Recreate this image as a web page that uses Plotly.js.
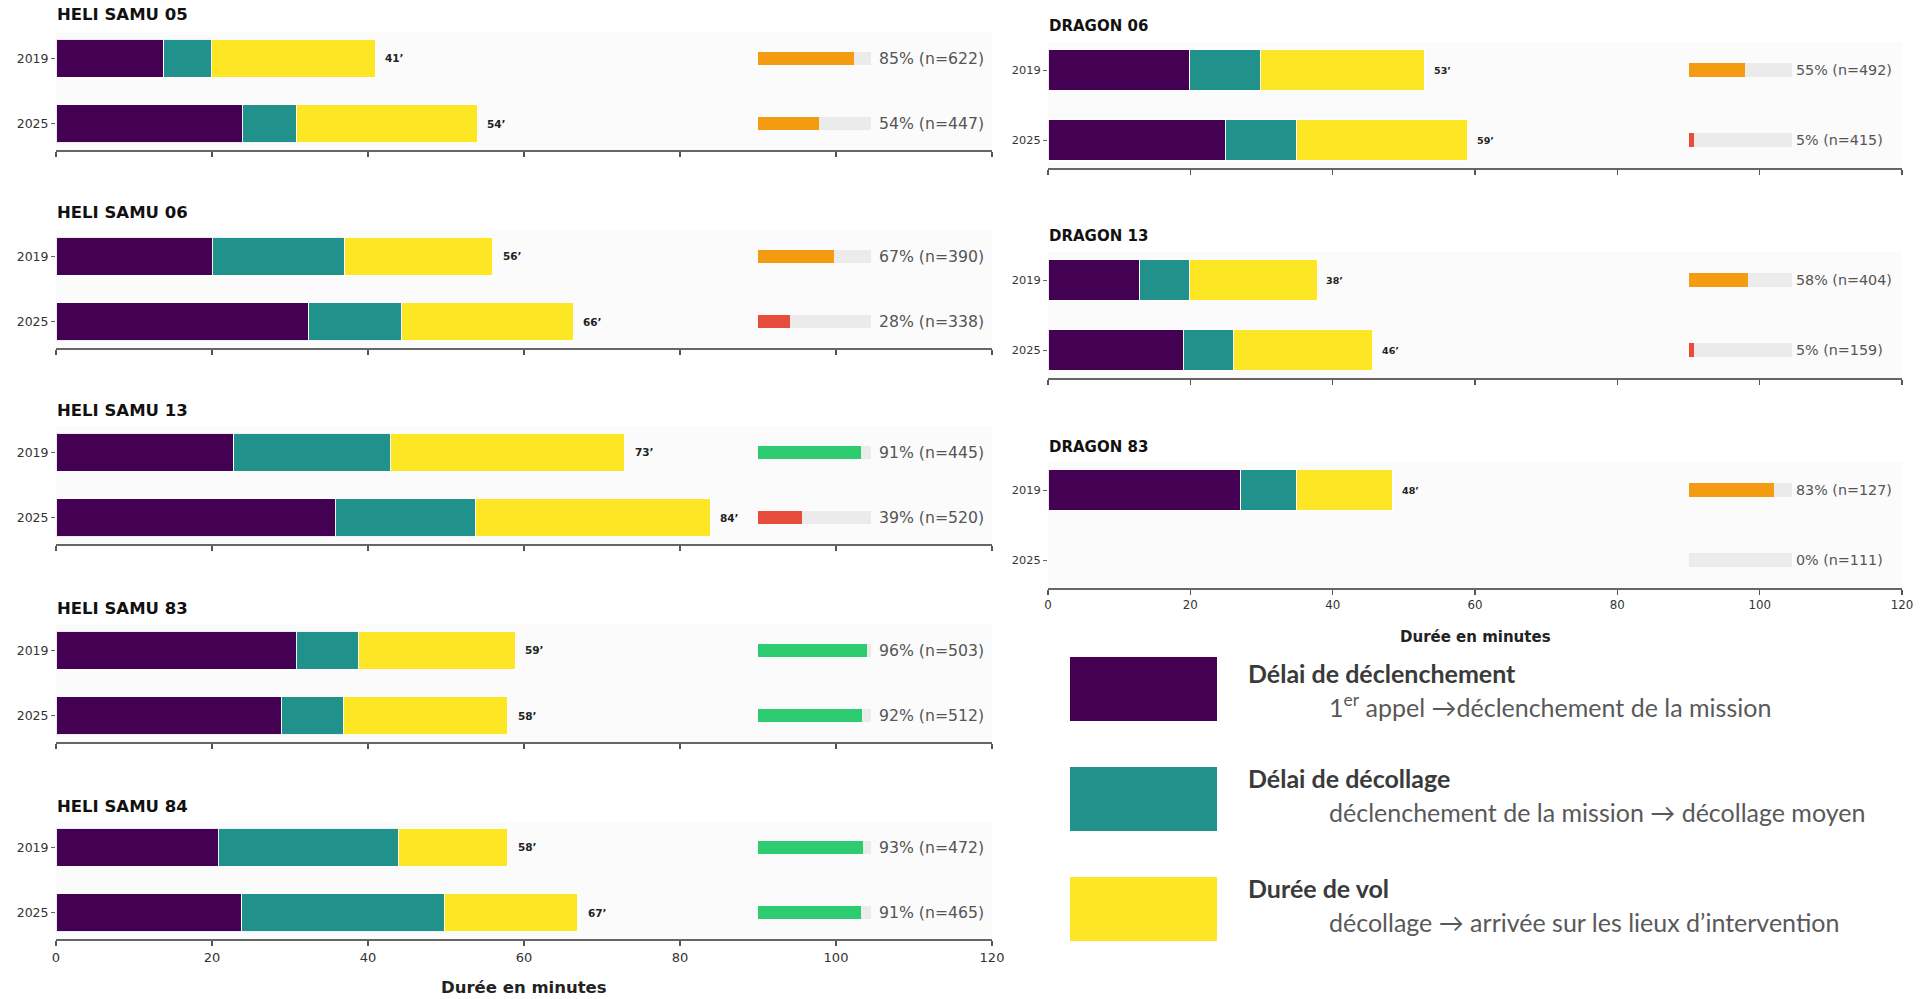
<!DOCTYPE html>
<html>
<head>
<meta charset="utf-8">
<script src="https://cdn.plot.ly/plotly-3.0.1.min.js"></script>
<style>html,body{margin:0;padding:0;background:#fff;}#chart{width:1921px;height:999px;}</style>
</head>
<body>
<div id="chart"></div>
<script>
// ---------------- DATA ----------------
const stations = ['HELI SAMU 05','HELI SAMU 06','HELI SAMU 13','HELI SAMU 83','HELI SAMU 84','DRAGON 06','DRAGON 13','DRAGON 83'];
const years = ['2019','2025'];
// Délai de déclenchement (minutes)
const declenchement2019 = [13.8, 20.0, 22.8, 30.8, 20.8, 19.9, 12.9, 27.1];
const declenchement2025 = [23.9, 32.4, 35.8, 28.9, 23.8, 24.9, 19.0, null];
// Délai de décollage (minutes)
const decollage2019 = [6.1, 17.0, 20.1, 8.0, 23.1, 9.9, 7.0, 7.8];
const decollage2025 = [6.9, 11.9, 18.0, 7.9, 26.0, 10.0, 7.0, null];
// Durée de vol (minutes)
const vol2019 = [21.0, 19.0, 30.0, 20.1, 14.0, 23.1, 17.9, 13.5];
const vol2025 = [23.2, 22.0, 30.1, 21.1, 17.1, 24.1, 19.6, null];
// Compliance (%) and sample size
const pct2019 = [85, 67, 91, 96, 93, 55, 58, 83];
const pct2025 = [54, 28, 39, 92, 91, 5, 5, 0];
const n2019 = [622, 390, 445, 503, 472, 492, 404, 127];
const n2025 = [447, 338, 520, 512, 465, 415, 159, 111];
const xTicks = [0, 20, 40, 60, 80, 100, 120];
const segmentNames = ['Délai de déclenchement', 'Délai de décollage', 'Durée de vol'];
const legendSub = ['1<sup>er</sup> appel →déclenchement de la mission',
                   'déclenchement de la mission → décollage moyen',
                   'décollage → arrivée sur les lieux d’intervention'];
const xTitle = 'Durée en minutes';

// ---------------- STYLE / LAYOUT ----------------
const W = 1921, H = 999;
const colors = ['#440154', '#21918c', '#fde725'];
const px = p => p / W;
const py = p => 1 - p / H;
const leftX = [56, 992], rightX = [1048, 1902];
const panels = [
  {x: leftX, top: 32,  bot: 150, ty: 15,  s: 1, pf: 15.7, px0: 105.3},
  {x: leftX, top: 230, bot: 348, ty: 213, s: 1, pf: 15.7, px0: 105.3},
  {x: leftX, top: 426, bot: 544, ty: 410, s: 1, pf: 15.7, px0: 105.3},
  {x: leftX, top: 624, bot: 742, ty: 608, s: 1, pf: 15.7, px0: 105.3},
  {x: leftX, top: 821, bot: 939, ty: 806, s: 1, pf: 15.7, px0: 105.3, labels: true},
  {x: rightX, top: 42,  bot: 168, ty: 26,  s: 0.91, pf: 14.3, px0: 104.8},
  {x: rightX, top: 252, bot: 378, ty: 236, s: 0.91, pf: 14.3, px0: 104.8},
  {x: rightX, top: 462, bot: 588, ty: 447, s: 0.91, pf: 14.3, px0: 104.8, labels: true}
];
const complColor = p => p >= 90 ? '#2ecc71' : (p >= 50 ? '#f39c12' : '#e74c3c');
const FONT = 'DejaVu Sans, sans-serif';

const traces = [];
const annotations = [];
const shapes = [];
const layout = {
  width: W, height: H,
  margin: {l: 0, r: 0, t: 0, b: 0},
  paper_bgcolor: '#ffffff',
  barmode: 'stack',
  showlegend: false,
  hovermode: false,
  font: {family: FONT, color: '#333'},
  annotations: annotations,
  shapes: shapes
};

stations.forEach((st, i) => {
  const P = panels[i];
  const sfx = i === 0 ? '' : String(i + 1);
  const xa = 'x' + sfx, ya = 'y' + sfx;
  const segs = [
    [declenchement2019[i], declenchement2025[i]],
    [decollage2019[i], decollage2025[i]],
    [vol2019[i], vol2025[i]]
  ];
  segs.forEach((v, k) => {
    traces.push({
      type: 'bar', orientation: 'h', name: segmentNames[k],
      y: years, x: v, xaxis: xa, yaxis: ya, width: 0.58,
      marker: {color: colors[k], line: {color: 'rgba(255,255,255,0.9)', width: 1}}
    });
  });
  // compliance background + bar
  traces.push({
    type: 'bar', orientation: 'h', y: years, x: [14.5, 14.5], base: [90, 90],
    xaxis: xa, yaxis: ya, width: 0.2, marker: {color: '#ebebeb'}
  });
  const pc = [pct2019[i], pct2025[i]];
  traces.push({
    type: 'bar', orientation: 'h', y: years, x: pc.map(p => p * 0.145), base: [90, 90],
    xaxis: xa, yaxis: ya, width: 0.2, marker: {color: pc.map(complColor)}
  });

  // axes
  layout['xaxis' + sfx] = {
    domain: [px(P.x[0]), px(P.x[1])], anchor: ya, range: [0, 120],
    tickvals: xTicks, ticks: 'outside', ticklen: 5, tickwidth: 1.3, tickcolor: '#555',
    showticklabels: !!P.labels, tickfont: {size: 13 * P.s, color: '#333', family: FONT},
    showline: true, linecolor: '#666', linewidth: 2, showgrid: false, zeroline: false,
    fixedrange: true
  };
  layout['yaxis' + sfx] = {
    domain: [py(P.bot), py(P.top)], anchor: xa, type: 'category',
    categoryorder: 'array', categoryarray: years, range: [1.4, -0.4],
    ticks: 'outside', ticklen: 4, tickwidth: 1, tickcolor: '#666',
    tickfont: {size: 12.5 * P.s, color: '#333', family: FONT},
    showline: false, showgrid: false, zeroline: false, fixedrange: true
  };
  // plot bg
  shapes.push({type: 'rect', xref: 'paper', yref: 'paper', layer: 'below',
    x0: px(P.x[0]), x1: px(P.x[1]), y0: py(P.bot), y1: py(P.top),
    fillcolor: '#fbfbfb', line: {width: 0}});

  // title
  annotations.push({xref: 'paper', yref: 'paper', x: px(P.x[0]) - 0.0005, y: py(P.ty),
    xanchor: 'left', yanchor: 'middle', showarrow: false,
    text: '<b>' + st + '</b>', font: {size: 16.5 * P.s, color: '#111', family: FONT}});

  // total labels and compliance labels (category axis: position by index)
  years.forEach((yr, j) => {
    const vals = segs.map(s => s[j]);
    if (vals.every(v => v !== null)) {
      const tot = vals.reduce((a, b) => a + b, 0);
      annotations.push({xref: xa, yref: ya, x: tot, y: j, xanchor: 'left', yanchor: 'middle',
        xshift: 8 * P.s, showarrow: false, text: '<b>' + Math.round(tot) + '’</b>',
        font: {size: 10.5 * P.s, color: '#222', family: FONT}});
    }
    const p = j === 0 ? pct2019[i] : pct2025[i];
    const n = j === 0 ? n2019[i] : n2025[i];
    annotations.push({xref: xa, yref: ya, x: P.px0, y: j, xanchor: 'left', yanchor: 'middle',
      showarrow: false, text: p + '% (n=' + n + ')',
      font: {size: P.pf, color: '#555', family: FONT}});
  });
});

// x-axis titles
annotations.push({xref: 'paper', yref: 'paper', x: px((leftX[0] + leftX[1]) / 2), y: py(987),
  xanchor: 'center', yanchor: 'middle', showarrow: false, text: '<b>' + xTitle + '</b>',
  font: {size: 16.5, color: '#222', family: FONT}});
annotations.push({xref: 'paper', yref: 'paper', x: px((rightX[0] + rightX[1]) / 2), y: py(637),
  xanchor: 'center', yanchor: 'middle', showarrow: false, text: '<b>' + xTitle + '</b>',
  font: {size: 15, color: '#222', family: FONT}});

// custom legend
const boxY = [[657, 721], [767, 831], [877, 941]];
const headY = [673, 778, 888];
const subY = [705, 812, 922];
segmentNames.forEach((nm, k) => {
  shapes.push({type: 'rect', xref: 'paper', yref: 'paper',
    x0: px(1070), x1: px(1217), y0: py(boxY[k][1]), y1: py(boxY[k][0]),
    fillcolor: colors[k], line: {width: 0}});
  annotations.push({xref: 'paper', yref: 'paper', x: px(1246), y: py(headY[k]),
    xanchor: 'left', yanchor: 'middle', showarrow: false, text: '<b>' + nm + '</b>',
    font: {size: 25, color: '#3a3a3a', family: 'Lato, sans-serif'}});
  annotations.push({xref: 'paper', yref: 'paper', x: px(1327), y: py(subY[k]),
    xanchor: 'left', yanchor: 'middle', showarrow: false, text: legendSub[k],
    font: {size: 25, color: '#595959', family: 'Lato, sans-serif'}});
});

Plotly.newPlot('chart', traces, layout, {displayModeBar: false, staticPlot: true});
</script>
</body>
</html>
